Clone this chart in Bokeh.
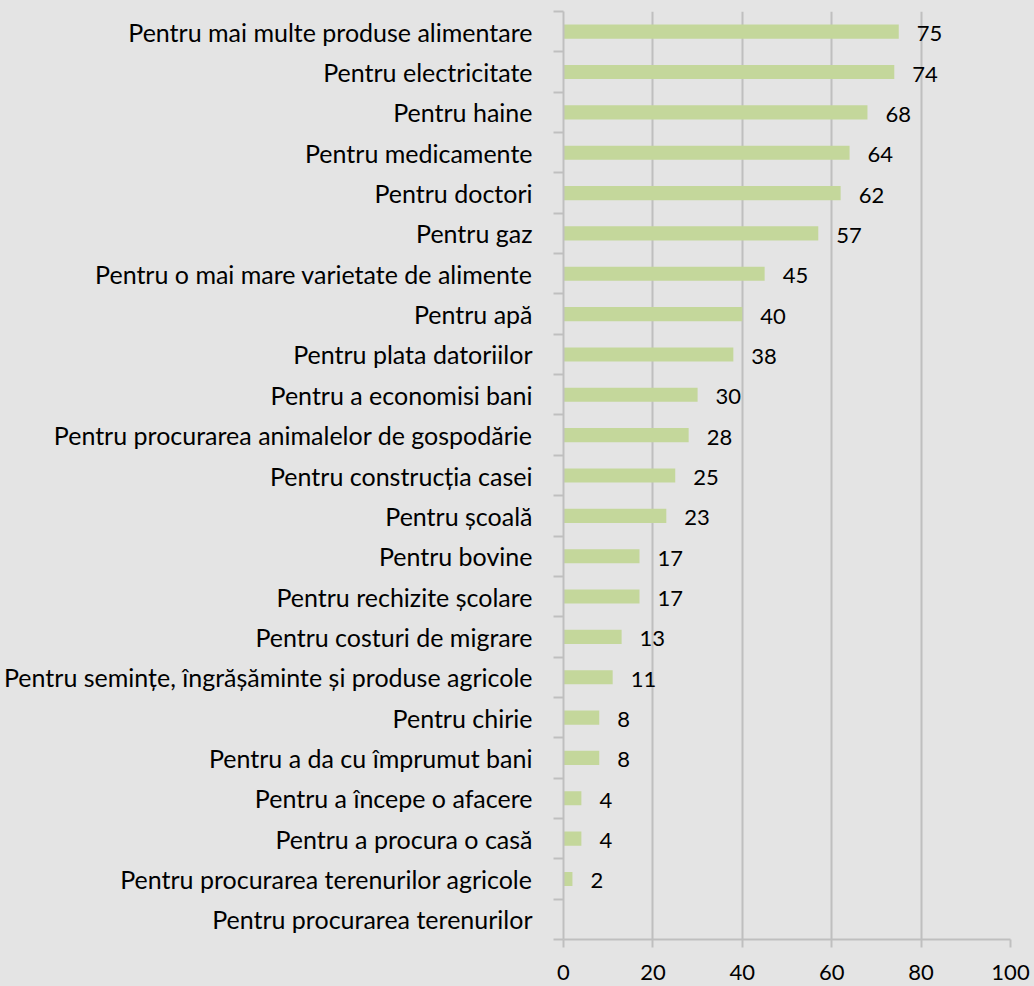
from bokeh.plotting import figure
from bokeh.models import Range1d, FixedTicker, ColumnDataSource, LabelSet
from bokeh.embed import file_html
from bokeh.resources import INLINE
from bokeh.core.properties import value

categories = [
    "Pentru mai multe produse alimentare",
    "Pentru electricitate",
    "Pentru haine",
    "Pentru medicamente",
    "Pentru doctori",
    "Pentru gaz",
    "Pentru o mai mare varietate de alimente",
    "Pentru apă",
    "Pentru plata datoriilor",
    "Pentru a economisi bani",
    "Pentru procurarea animalelor de gospodărie",
    "Pentru construcția casei",
    "Pentru școală",
    "Pentru bovine",
    "Pentru rechizite școlare",
    "Pentru costuri de migrare",
    "Pentru semințe, îngrășăminte și produse agricole",
    "Pentru chirie",
    "Pentru a da cu împrumut bani",
    "Pentru a începe o afacere",
    "Pentru a procura o casă",
    "Pentru procurarea terenurilor agricole",
    "Pentru procurarea terenurilor",
]
values = [75, 74, 68, 64, 62, 57, 45, 40, 38, 30, 28, 25, 23, 17, 17, 13, 11, 8, 8, 4, 4, 2, 0]
value_labels = ["75", "74", "68", "64", "62", "57", "45", "40", "38", "30", "28", "25", "23",
                "17", "17", "13", "11", "8", "8", "4", "4", "2", ""]
x_ticks = [0, 20, 40, 60, 80, 100]

n = len(categories)
ypos = [n - i - 0.5 for i in range(n)]

BG = "#e4e4e4"
GRID = "#bfbfbf"
BAR = "#c4d79b"
FONT = "Lato"

src = ColumnDataSource(dict(y=ypos, v=values, lab=value_labels, cat=categories))

p = figure(width=1034, height=986, output_backend="svg", toolbar_location=None,
           x_range=Range1d(0, 100), y_range=Range1d(0, n),
           min_border_left=563, min_border_right=24, min_border_top=11, min_border_bottom=47)
p.background_fill_color = BG
p.border_fill_color = BG
p.outline_line_color = None

p.hbar(y="y", right="v", left=0, height=0.35, source=src, fill_color=BAR, line_color=None)

labels = LabelSet(x="v", y="y", text="lab", source=src, x_offset=18, y_offset=-2,
                  text_align="left", text_baseline="middle",
                  text_font=value(FONT), text_font_size="22px", text_color="#000000")
p.add_layout(labels)

# x axis
p.xaxis.ticker = FixedTicker(ticks=x_ticks)
p.xaxis.axis_line_color = GRID
p.xaxis.axis_line_width = 2
p.xaxis.major_tick_line_color = GRID
p.xaxis.major_tick_line_width = 2
p.xaxis.major_tick_out = 8
p.xaxis.major_tick_in = 0
p.xaxis.minor_tick_line_color = None
p.xaxis.major_label_standoff = 17
p.xaxis.major_label_text_font = FONT
p.xaxis.major_label_text_font_size = "22px"
p.xaxis.major_label_text_color = "#000000"

# y axis: labels at centres, ticks at boundaries
p.yaxis.ticker = FixedTicker(ticks=ypos, minor_ticks=list(range(n + 1)))
p.yaxis.major_label_overrides = {y: c for y, c in zip(ypos, categories)}
p.yaxis.axis_line_color = GRID
p.yaxis.axis_line_width = 2
p.yaxis.major_tick_line_color = None
p.yaxis.major_tick_out = 0
p.yaxis.major_tick_in = 0
p.yaxis.minor_tick_line_color = GRID
p.yaxis.minor_tick_line_width = 2
p.yaxis.minor_tick_out = 10
p.yaxis.minor_tick_in = 0
p.yaxis.major_label_standoff = 21
p.yaxis.major_label_text_font = FONT
p.yaxis.major_label_text_font_size = "25px"
p.yaxis.major_label_text_color = "#000000"

p.xgrid.ticker = FixedTicker(ticks=x_ticks)
p.xgrid.grid_line_color = GRID
p.xgrid.grid_line_width = 2
p.ygrid.grid_line_color = None

html = file_html(p, INLINE)
html = html.replace("<body>", '<body style="background-color:%s;">' % BG)
open("out.html", "w").write(html)
